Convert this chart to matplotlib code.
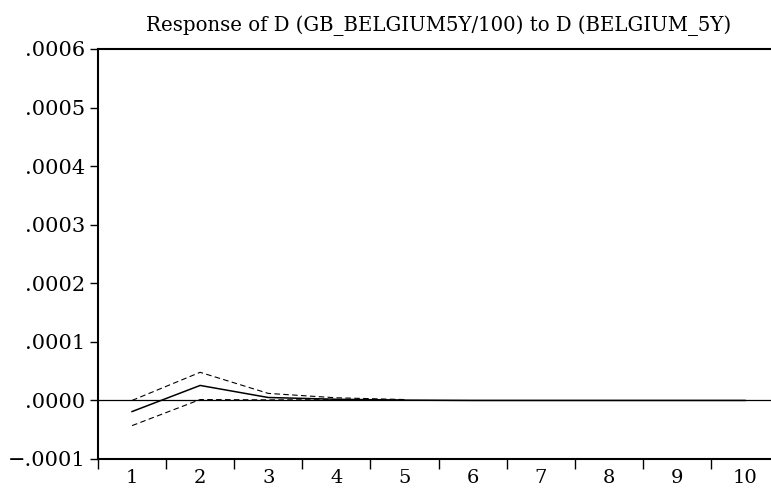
import matplotlib.pyplot as plt
import numpy as np

periods = np.arange(1, 11)
response = [-0.0000190, 0.0000256, 0.0000050, 0.0000020, 0.0000005, 0.0, 0.0, 0.0, 0.0, 0.0]
band_periods = np.arange(1, 6)
upper = [0.0000000, 0.0000480, 0.0000120, 0.0000045, 0.0000015]
lower = [-0.0000430, 0.0000015, 0.0000010, 0.0000012, 0.0000005]
ytick_vals = [-0.0001, 0.0, 0.0001, 0.0002, 0.0003, 0.0004, 0.0005, 0.0006]
ytick_labels = ['\u2212.0001', '.0000', '.0001', '.0002', '.0003', '.0004', '.0005', '.0006']

plt.rcParams['font.family'] = ['DejaVu Serif']

fig = plt.figure(figsize=(7.71, 4.95), dpi=100)
ax = fig.add_axes([98 / 771, 1 - 459 / 495, 681 / 771, 410 / 495])

ax.plot(periods, response, color='black', lw=1.1)
ax.plot(band_periods, upper, color='black', lw=0.8, dashes=(5, 3))
ax.plot(band_periods, lower, color='black', lw=0.8, dashes=(5, 3))
ax.axhline(0, color='black', lw=0.9)

ax.set_xlim(0.5, 10.5)
ax.set_ylim(-0.0001, 0.0006)
ax.set_yticks(ytick_vals)
ax.set_yticklabels(ytick_labels, fontsize=15)
ax.set_xticks(periods)
ax.set_xticklabels([str(p) for p in periods], fontsize=14)
ax.set_xticks(np.arange(0.5, 11, 1), minor=True)
ax.tick_params(axis='x', which='major', length=0, pad=7)
ax.tick_params(axis='x', which='minor', length=7, width=1, direction='out')
ax.tick_params(axis='y', length=6, width=1, direction='out', pad=3)
for side in ['left', 'bottom', 'top']:
    ax.spines[side].set_linewidth(1.5)
ax.spines['right'].set_visible(False)

ax.set_title('Response of D (GB_BELGIUM5Y/100) to D (BELGIUM_5Y)', fontsize=14.2, pad=13)

fig.savefig('out.png', dpi=100)
